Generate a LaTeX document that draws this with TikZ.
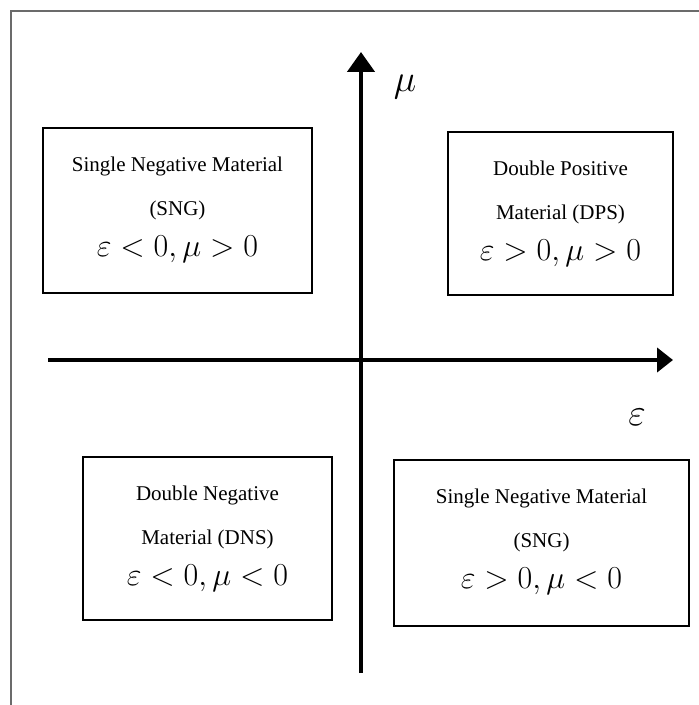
\documentclass[tikz,border=0pt]{standalone}
\usepackage{fix-cm}
\usepackage[no-math]{fontspec}
\setmainfont{Liberation Serif}
\usetikzlibrary{arrows.meta}
\begin{document}
\begin{tikzpicture}[x=1bp,y=-1bp,
  frame/.style={draw=black!58,line width=2bp},
  axis/.style={draw=black,line width=4.5bp},
  regionbox/.style={draw=black,line width=1.8bp,inner sep=0pt,fill=none},
  txt/.style={anchor=base,inner sep=0pt,font=\fontsize{21bp}{25bp}\selectfont},
  formula/.style={anchor=base,inner sep=0pt,font=\fontsize{32bp}{38bp}\selectfont},
  axlabel/.style={anchor=base,inner sep=0pt,font=\fontsize{38bp}{44bp}\selectfont}]
\useasboundingbox (0,0) rectangle (699,705);
% frame (only top and left edges visible)
\coordinate (fr1) at (699,11);
\coordinate (fr2) at (11,705);
\draw[frame] (fr1) -| (fr2);
% axes
\coordinate (xs) at (48,360);
\coordinate (xe) at (673,360);
\coordinate (ys) at (361,673);
\coordinate (ye) at (361,52);
\draw[axis,-{Triangle[width=24bp,length=16bp]}] (xs) -- (xe);
\draw[axis,-{Triangle[width=27bp,length=20bp]}] (ys) -- (ye);
\node[axlabel] (mu) at (405,92) {$\mu$};
\node[axlabel] (eps) at (637,425) {$\varepsilon$};
% boxes
\node[regionbox,minimum width=269bp,minimum height=165bp] (tl) at (177.5,210.5) {};
\node[regionbox,minimum width=225bp,minimum height=163bp] (tr) at (560.5,213.5) {};
\node[regionbox,minimum width=249bp,minimum height=163bp] (bl) at (207.5,538.5) {};
\node[regionbox,minimum width=295bp,minimum height=166bp] (br) at (541.5,543) {};
% texts
\node[txt] (tla) at (177.5,171) {Single Negative Material};
\node[txt] (tlb) at (177.5,215) {(SNG)};
\node[formula] (tlc) at (177.5,256) {$\varepsilon<0,\mu>0$};
\node[txt] (tra) at (560.5,175) {Double Positive};
\node[txt] (trb) at (560.5,219) {Material (DPS)};
\node[formula] (trc) at (560.5,260) {$\varepsilon>0,\mu>0$};
\node[txt] (bla) at (207.5,500) {Double Negative};
\node[txt] (blb) at (207.5,544) {Material (DNS)};
\node[formula] (blc) at (207.5,585) {$\varepsilon<0,\mu<0$};
\node[txt] (bra) at (541.5,503) {Single Negative Material};
\node[txt] (brb) at (541.5,547) {(SNG)};
\node[formula] (brc) at (541.5,588) {$\varepsilon>0,\mu<0$};
\end{tikzpicture}
\end{document}
